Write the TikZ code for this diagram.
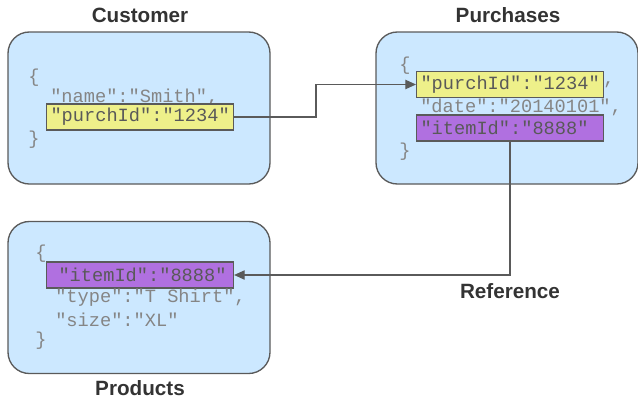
\documentclass[tikz,border=0pt]{standalone}
\usepackage{fontspec}
\setmainfont{Liberation Sans}
\newfontfamily\codefont{Liberation Mono}
\usepackage{tikz}
\usetikzlibrary{arrows.meta}
\usetikzlibrary{positioning}
\definecolor{docblue}{HTML}{CCE8FF}
\definecolor{keyyellow}{HTML}{EEF08A}
\definecolor{keypurple}{HTML}{B070E0}
\definecolor{codegray}{HTML}{858585}
\definecolor{linegray}{HTML}{5A5A5A}
\tikzset{
    document/.style={draw=linegray, line width=1pt, fill=docblue, rounded corners=16pt,
        minimum width=196.5pt, minimum height=114pt, inner sep=0pt},
    codeline/.style={anchor=west, inner sep=0pt, text=codegray, font=\codefont\fontsize{14}{14}\selectfont},
    keyfield/.style={anchor=west, draw=linegray, line width=.8pt, inner sep=0pt,
        minimum width=140.25pt, minimum height=19.5pt, text=black!65,
        font=\codefont\fontsize{14}{14}\selectfont},
    title/.style={text=black!80, font=\bfseries\fontsize{15.5}{15.5}\selectfont},
    link/.style={draw=linegray, line width=.9pt, -{Triangle[length=8pt,width=7pt]}},
}
\begin{document}
\begin{tikzpicture}[x=0.75pt,y=-0.75pt]
    \useasboundingbox (0,0) rectangle (638,400);
    % the three documents
    \node[document] (customer) at (139,108) {};
    \node[document] (purchases) at (507,108) {};
    \node[document] (products) at (139,297.5) {};
        \node[title] (customerlabel) at (140,15) {Customer};
        \node[title] (purchaseslabel) at (508,15) {Purchases};
        \node[title] (productslabel) at (140,388) {Products};
    % Customer
    \node[codeline] (c1) at (28,78) {\{};
    \node[codeline] (c2) at (50,97) {"name":"Smith",};
    \node[keyfield, fill=keyyellow, text width=140.25pt] (cpurch) at (46,117) {\hspace{3pt}"purchId":"1234"};
    \node[codeline] (c3) at (28,140) {\}};
    % Purchases
    \node[codeline] (p1) at (399,66) {\{};
    \node[keyfield, fill=keyyellow, text width=140.25pt] (ppurch) at (416,84.5) {\hspace{3pt}"purchId":"1234"};
    \node[codeline] (p2) at (603,84.5) {,};
    \node[codeline] (p3) at (420,107) {"date":"20140101",};
    \node[keyfield, fill=keypurple, text width=140.25pt] (pitem) at (416,128) {\hspace{3pt}"itemId":"8888"};
    \node[codeline] (p4) at (399,152) {\}};
    % Products
    \node[codeline] (d1) at (35,254) {\{};
    \node[keyfield, fill=keypurple, text width=140.25pt] (ditem) at (46,275) {\hspace{9pt}"itemId":"8888"};
    \node[codeline] (d2) at (55,298) {"type":"T Shirt",};
    \node[codeline] (d3) at (55,320) {"size":"XL"};
    \node[codeline] (d4) at (35,341) {\}};
    % links
    \coordinate (bend) at (316,117);
    \draw[link] (cpurch.east) -- (bend) |- (ppurch.west);
    \draw[link] (pitem.south) |- (ditem.east);
        \node[title] (referencelabel) at (510,291) {Reference};
\end{tikzpicture}
\end{document}
